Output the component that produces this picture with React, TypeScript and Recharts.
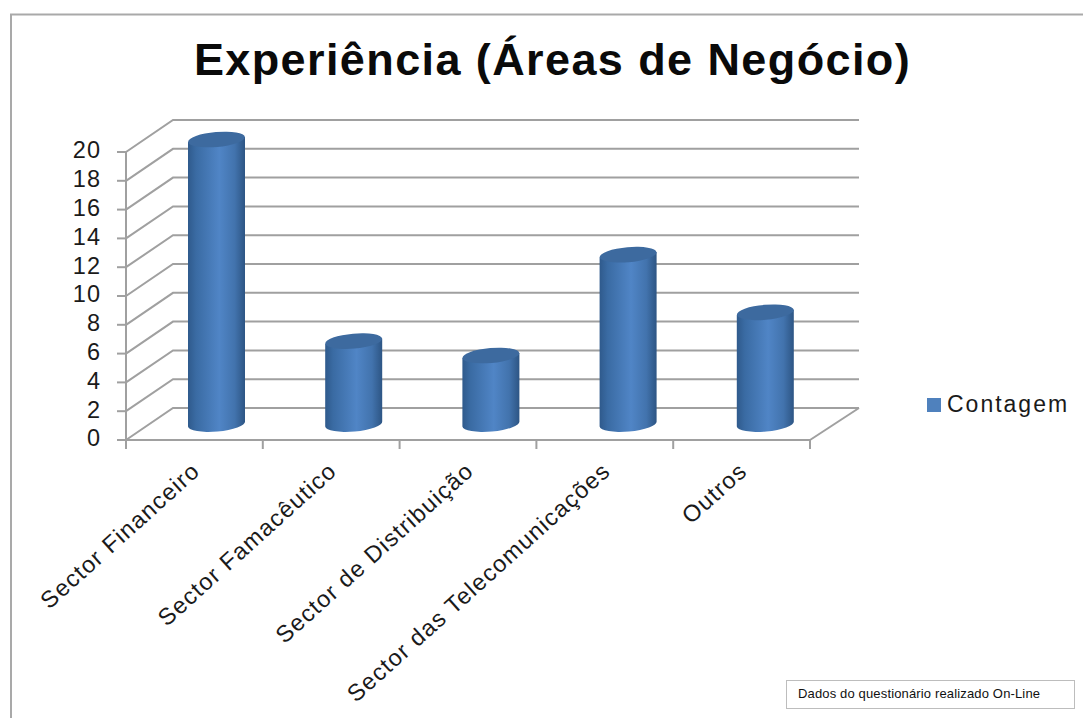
import React from "react";
import { Bar, BarChart, CartesianGrid, Legend, XAxis, YAxis } from "recharts";

const categories = [
  "Sector Financeiro",
  "Sector Famacêutico",
  "Sector de Distribuição",
  "Sector das Telecomunicações",
  "Outros",
];
const contagem = [20, 6, 5, 12, 8];
const yTicks = [0, 2, 4, 6, 8, 10, 12, 14, 16, 18, 20];
const seriesName = "Contagem";
const chartTitle = "Experiência (Áreas de Negócio)";
const footnote = "Dados do questionário realizado On-Line";

const rows = categories.map((name, i) => ({ name, value: contagem[i] }));

const W = 1083;
const H = 718;
const LEFT = 126;
const RIGHT = 810;
const TOP = 152;
const BOTTOM = 440;
const DEPTH_X = 47;
const DEPTH_Y = 32;
const LEGEND_W = 150;
const GRID = "#a0a0a0";
const GRID_W = 2;
const FONT = '"Liberation Sans", Arial, sans-serif';

// A gridline runs up the side wall from the front axis and then across the back wall.
function WallLine(props: any) {
  const { x1, y1, x2 } = props;
  const isFloor = Math.abs(y1 - BOTTOM) < 1;
  const d = `M${x1} ${y1} L${x1 + DEPTH_X} ${y1 - DEPTH_Y} L${x2 + DEPTH_X + 2} ${y1 - DEPTH_Y}`;
  return (
    <g fill="none" stroke={GRID} strokeWidth={GRID_W}>
      <path d={d} />
      {isFloor && <path d={`M${x2} ${y1} L${x2 + DEPTH_X + 2} ${y1 - DEPTH_Y}`} />}
    </g>
  );
}

// Upright cylinder, pushed back to the middle of the floor's depth.
function Cylinder(props: any) {
  const { x, y, width, height, index } = props;
  const dx = 22 + index * 0.4;
  const rx = width / 2;
  const ry = 7.5;
  const tilt = 2.6;
  const l = x + dx;
  const r = l + width;
  const top = y - 12.5;
  const bottom = y + height - 16;
  const body = `M${l} ${top + tilt} L${l} ${bottom + tilt} A${rx} ${ry} -5 0 0 ${r} ${bottom - tilt} L${r} ${top - tilt} Z`;
  return (
    <g>
      <path d={body} fill="url(#cylinderSide)" />
      <ellipse
        cx={l + rx}
        cy={top}
        rx={rx}
        ry={ry}
        fill="#3d6a9f"
        transform={`rotate(-5 ${l + rx} ${top})`}
      />
    </g>
  );
}

// Slanted category label plus the separator tick at the left edge of its band.
function CategoryTick(props: any) {
  const { x, y, payload, index } = props;
  const band = (RIGHT - LEFT) / categories.length;
  const left = x - band / 2;
  const ax = x + 7;
  const ay = y + 25;
  return (
    <g>
      <line x1={left} y1={BOTTOM} x2={left} y2={BOTTOM + 9} stroke={GRID} strokeWidth={GRID_W} />
      {index === categories.length - 1 && (
        <line x1={left + band} y1={BOTTOM} x2={left + band} y2={BOTTOM + 9} stroke={GRID} strokeWidth={GRID_W} />
      )}
      <text
        x={ax}
        y={ay}
        textAnchor="end"
        fontSize={23.5}
        letterSpacing={1.2}
        fontFamily={FONT}
        fill="#1a1a1a"
        transform={`rotate(-42 ${ax} ${ay})`}
      >
        {payload.value}
      </text>
    </g>
  );
}

function LegendContent({ payload }: any) {
  const item = payload && payload[0];
  return (
    <div style={{ position: "relative", width: LEGEND_W, height: 30, fontFamily: FONT }}>
      <div style={{ position: "absolute", left: 0, top: 9, width: 14, height: 14, background: "#4f81bd" }} />
      <div
        style={{
          position: "absolute",
          left: 20,
          top: 1,
          fontSize: 23,
          lineHeight: "28px",
          letterSpacing: 2,
          color: "#1a1a1a",
          whiteSpace: "nowrap",
        }}
      >
        {item ? item.value : seriesName}
      </div>
    </div>
  );
}

export default function App() {
  return (
    <div style={{ position: "absolute", left: 0, top: 0, width: W, height: H, overflow: "hidden", background: "#fff" }}>
      <BarChart
        width={W}
        height={H}
        data={rows}
        margin={{ top: TOP, right: W - RIGHT - LEGEND_W, bottom: 0, left: 0 }}
        barCategoryGap={0}
      >
        <defs>
          <linearGradient id="cylinderSide" x1="0" y1="0" x2="1" y2="0">
            <stop offset="0" stopColor="#2f5a8c" />
            <stop offset="0.14" stopColor="#3a6ba3" />
            <stop offset="0.55" stopColor="#5085c6" />
            <stop offset="0.82" stopColor="#4273ad" />
            <stop offset="1" stopColor="#2d5584" />
          </linearGradient>
        </defs>
        <path d={`M11 ${H} L11 14.5 L${W} 14.5`} fill="none" stroke="#a9a9a9" strokeWidth={2} />
        <text
          x={552.5}
          y={75}
          textAnchor="middle"
          fontSize={45}
          letterSpacing={1.4}
          fontWeight="bold"
          fontFamily={FONT}
          fill="#0a0a0a"
        >
          {chartTitle}
        </text>
        <CartesianGrid horizontal={<WallLine />} vertical={false} />
        <XAxis
          dataKey="name"
          interval={0}
          tickLine={false}
          axisLine={{ stroke: GRID, strokeWidth: GRID_W }}
          tick={<CategoryTick />}
          height={H - BOTTOM}
        />
        <YAxis
          width={LEFT}
          domain={[0, 20]}
          ticks={yTicks}
          interval={0}
          tickSize={9}
          tickMargin={16}
          axisLine={{ stroke: GRID, strokeWidth: GRID_W }}
          tickLine={{ stroke: GRID, strokeWidth: GRID_W }}
          tick={{ fontSize: 23.5, fontFamily: FONT, fill: "#1a1a1a", dy: -2, letterSpacing: 1 }}
        />
        <Bar
          dataKey="value"
          name={seriesName}
          barSize={57}
          fill="#4f81bd"
          shape={<Cylinder />}
          isAnimationActive={false}
        />
        <Legend
          layout="vertical"
          align="right"
          verticalAlign="middle"
          content={<LegendContent />}
          wrapperStyle={{ left: 927, top: 389, width: LEGEND_W, height: 30 }}
        />
      </BarChart>
      <div
        style={{
          position: "absolute",
          left: 786,
          top: 680,
          width: 287,
          height: 27,
          border: "1px solid #bdbdbd",
          fontFamily: FONT,
          fontSize: 13,
          letterSpacing: 0.15,
          lineHeight: "26px",
          color: "#111",
          boxSizing: "content-box",
        }}
      >
        <span style={{ marginLeft: 11 }}>{footnote}</span>
      </div>
    </div>
  );
}
